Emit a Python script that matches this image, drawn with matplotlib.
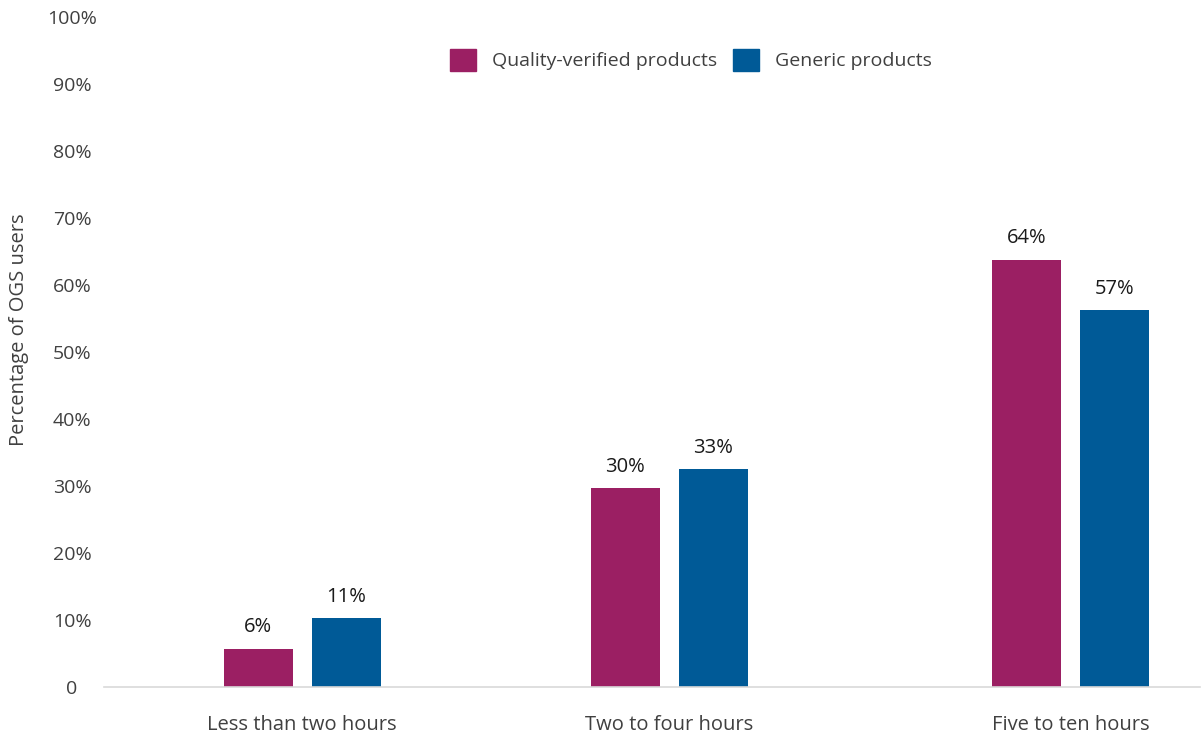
import matplotlib

matplotlib.use("Agg")
import matplotlib.pyplot as plt
from matplotlib.patches import Patch

# data
categories = ["Less than two hours", "Two to four hours", "Five to ten hours"]
series_names = ["Quality-verified products", "Generic products"]
quality_vals = [5.7, 29.7, 63.8]
generic_vals = [10.3, 32.5, 56.2]
quality_labels = ["6%", "30%", "64%"]
generic_labels = ["11%", "33%", "57%"]
y_ticks = [0, 10, 20, 30, 40, 50, 60, 70, 80, 90, 100]
y_tick_labels = ["0"] + [f"{v}%" for v in y_ticks[1:]]

MAGENTA = "#9B1F63"
BLUE = "#005A97"
TEXT = "#404040"

plt.rcParams["font.family"] = ["Open Sans", "DejaVu Sans"]

fig = plt.figure(figsize=(12.03, 7.36), dpi=100)
ax = fig.add_axes([104 / 1203, 1 - 687 / 736, (1200 - 104) / 1203, (687 - 17) / 736])

# group centres are not evenly spaced in the reference
group_x = [0.0, 1.0, 2.095]
width = 0.188
offset = 0.12

for i, x in enumerate(group_x):
    ax.bar(x - offset, quality_vals[i], width, color=MAGENTA)
    ax.bar(x + offset, generic_vals[i], width, color=BLUE)
    ax.text(x - offset, quality_vals[i] + 1.7, quality_labels[i], ha="center", va="bottom",
            fontsize=14.5, color="#1a1a1a")
    ax.text(x + offset, generic_vals[i] + 1.7, generic_labels[i], ha="center", va="bottom",
            fontsize=14.5, color="#1a1a1a")

ax.set_xlim(-0.54, 2.447)
ax.set_ylim(0, 100)
ax.set_yticks(y_ticks)
ax.set_yticklabels(y_tick_labels)
ax.set_xticks(group_x)
ax.set_xticklabels(categories)
ax.tick_params(axis="y", length=0, pad=23, labelsize=14, labelcolor=TEXT)
ax.tick_params(axis="x", length=0, pad=20, labelsize=14.5, labelcolor=TEXT)
for lab in ax.get_yticklabels():
    lab.set_horizontalalignment("center")
for s in ["top", "right", "left"]:
    ax.spines[s].set_visible(False)
ax.spines["bottom"].set_color("#d9d9d9")
ax.spines["bottom"].set_linewidth(1.2)

fig.text(19 / 1203, 1 - 330 / 736, "Percentage of OGS users", rotation=90, ha="center",
         va="center", fontsize=14.5, color=TEXT)

handles = [Patch(color=MAGENTA), Patch(color=BLUE)]
ax.legend(handles, series_names, loc="center", bbox_to_anchor=((691 - 104) / 1096, (687 - 60) / 670),
          ncol=2, frameon=False, fontsize=14, handlelength=1.34, handleheight=1.34,
          handletextpad=0.8, columnspacing=0.85, labelcolor=TEXT)

fig.savefig("out.png", dpi=100)
